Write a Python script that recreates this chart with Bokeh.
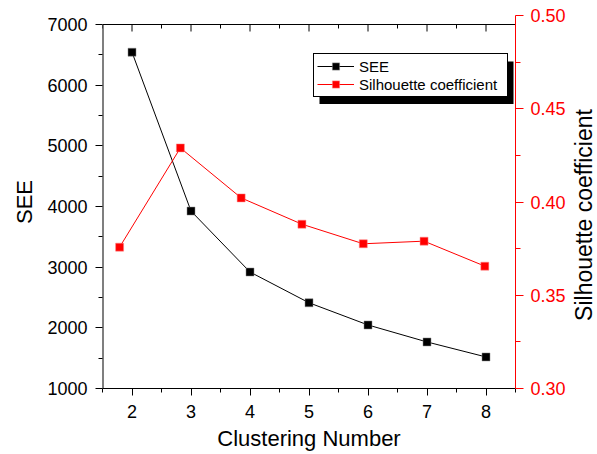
import math
from bokeh.plotting import figure
from bokeh.models import (Range1d, LinearAxis, FixedTicker, Legend, LegendItem,
                          BoxAnnotation, PrintfTickFormatter, Label)
from bokeh.embed import file_html
from bokeh.resources import INLINE

# ---- data ----
cluster_numbers = [2, 3, 4, 5, 6, 7, 8]
see_values = [6543, 3925, 2920, 2413, 2047, 1767, 1520]
sil_x = [1.79, 2.82, 3.85, 4.88, 5.92, 6.95, 7.98]
sil_values = [0.3758, 0.4290, 0.4022, 0.3881, 0.3776, 0.3790, 0.3656]

x_ticks = [2, 3, 4, 5, 6, 7, 8]
x_minor = [1.5, 2.5, 3.5, 4.5, 5.5, 6.5, 7.5, 8.5]
see_ticks = [1000, 2000, 3000, 4000, 5000, 6000, 7000]
see_minor = [1500, 2500, 3500, 4500, 5500, 6500]
sil_ticks = [0.30, 0.35, 0.40, 0.45, 0.50]
sil_minor = [0.325, 0.375, 0.425, 0.475]

# ---- layout geometry (pixels) ----
W, H = 597, 454
FL, FR, FT, FB = 102, 515, 15, 388
TOP_LINE = 24  # pixel row of the 7000 line / top border

x0, x1 = 1.5, 8.5
ppu_x = (FR - FL) / (x1 - x0)
ppu_y = (FB - TOP_LINE) / (see_ticks[-1] - see_ticks[0])
y_end = see_ticks[-1] + (TOP_LINE - FT) / ppu_y

def px_x(px):
    return x0 + (px - FL) / ppu_x

def px_y(py):
    return see_ticks[0] + (FB - py) / ppu_y

FONT = "Liberation Sans"
RED = "#ff0000"

p = figure(width=W, height=H, output_backend="svg", toolbar_location=None,
           x_range=Range1d(x0, x1), y_range=Range1d(see_ticks[0], y_end),
           min_border_left=FL, min_border_right=W - FR,
           min_border_top=FT, min_border_bottom=H - FB)
p.outline_line_color = None
p.xgrid.visible = False
p.ygrid.visible = False
p.background_fill_color = "white"
p.border_fill_color = "white"

p.extra_y_ranges = {"sil": Range1d(sil_ticks[0], sil_ticks[-1])}

# legend shadow (drawn beneath the legend)
shadow = BoxAnnotation(left=px_x(319), right=px_x(513), top=px_y(61), bottom=px_y(103.5),
                       fill_color="black", fill_alpha=1.0, line_color=None, level="underlay")
p.add_layout(shadow)

# x axis
xa = p.xaxis[0]
xa.ticker = FixedTicker(ticks=x_ticks, minor_ticks=x_minor)
xa.axis_label = "Clustering Number"

# left axis
ya = p.yaxis[0]
ya.ticker = FixedTicker(ticks=see_ticks, minor_ticks=see_minor)
ya.axis_label = "SEE"
ya.axis_line_color = None

# right axis (its title is drawn as a rotated label below)
ra = LinearAxis(y_range_name="sil")
ra.ticker = FixedTicker(ticks=sil_ticks, minor_ticks=sil_minor)
ra.formatter = PrintfTickFormatter(format="%.2f")
p.add_layout(ra, "right")

for ax in (xa, ya, ra):
    ax.major_label_text_font = FONT
    ax.major_label_text_font_size = "18px"
    ax.major_label_text_color = "black"
    ax.axis_label_text_font = FONT
    ax.axis_label_text_font_size = "22px"
    ax.axis_label_text_font_style = "normal"
    ax.axis_label_text_color = "black"
    ax.major_tick_in = 0
    ax.minor_tick_in = 0
    ax.major_tick_out = 7
    ax.minor_tick_out = 4
    ax.axis_line_width = 1
    ax.major_tick_line_width = 1
    ax.minor_tick_line_width = 1
    ax.major_tick_line_color = "black"
    ax.minor_tick_line_color = "black"

xa.major_label_standoff = 9
ya.major_label_standoff = 8
xa.axis_label_standoff = 5
ya.axis_label_standoff = 7
ra.major_tick_out = 8
ra.minor_tick_out = 5
ra.major_label_standoff = 7
ra.axis_line_color = RED
ra.major_tick_line_color = RED
ra.minor_tick_line_color = RED
ra.major_label_text_color = RED

right_title = Label(x=px_x(583), y=px_y(214.5),
                    text="Silhouette coefficient",
                    angle=math.pi / 2, text_align="center", text_baseline="middle",
                    text_font=FONT, text_font_size="23px", text_color="black")
p.add_layout(right_title, "right")

# left border line and top border with inward ticks
p.segment(x0=[x0], y0=[see_ticks[0]], x1=[x0], y1=[see_ticks[-1]],
          line_color="black", line_width=2)
p.segment(x0=[x0], y0=[see_ticks[-1]], x1=[x1], y1=[see_ticks[-1]],
          line_color="black", line_width=1)
p.segment(x0=x_ticks, y0=[see_ticks[-1]] * len(x_ticks), x1=x_ticks,
          y1=[see_ticks[-1] - 7 / ppu_y] * len(x_ticks), line_color="black", line_width=1)
p.segment(x0=x_minor, y0=[see_ticks[-1]] * len(x_minor), x1=x_minor,
          y1=[see_ticks[-1] - 4 / ppu_y] * len(x_minor), line_color="black", line_width=1)

# series
see_line = p.line(cluster_numbers, see_values, line_color="black", line_width=1)
see_pts = p.scatter(cluster_numbers, see_values, marker="square", size=8,
                    fill_color="black", line_color="#888888", line_width=0.5)
sil_line = p.line(sil_x, sil_values, line_color=RED, line_width=1, y_range_name="sil")
sil_pts = p.scatter(sil_x, sil_values, marker="square", size=8,
                    fill_color=RED, line_color="#ff8888", line_width=0.5, y_range_name="sil")

legend = Legend(items=[LegendItem(label="SEE", renderers=[see_line, see_pts]),
                       LegendItem(label="Silhouette coefficient", renderers=[sil_line, sil_pts])],
                location=(211, 291))
legend.label_text_font = FONT
legend.label_text_font_size = "15px"
legend.label_text_color = "black"
legend.label_height = 18
legend.glyph_height = 18
legend.glyph_width = 37
legend.label_width = 145
legend.label_standoff = 5
legend.spacing = 0
legend.padding = 3
legend.margin = 0
legend.border_line_color = "black"
legend.border_line_width = 1
legend.border_line_alpha = 1.0
legend.background_fill_color = "white"
legend.background_fill_alpha = 1.0
p.add_layout(legend, "center")

open("out.html", "w").write(file_html(p, INLINE))
